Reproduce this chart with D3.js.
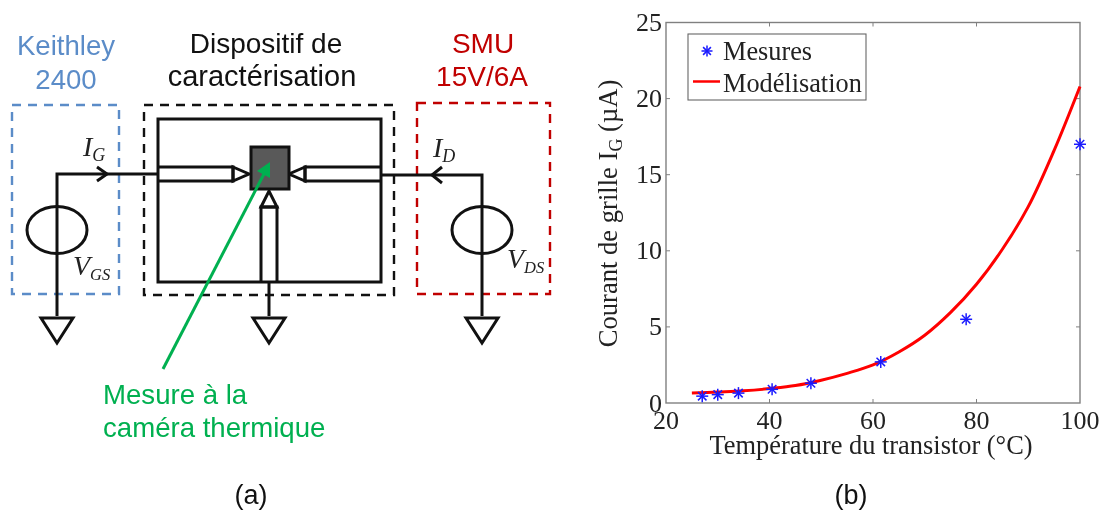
<!DOCTYPE html>
<html><head><meta charset="utf-8">
<script src="https://cdnjs.cloudflare.com/ajax/libs/d3/7.8.5/d3.min.js"></script>
<style>html,body{margin:0;padding:0;background:#fff}svg{display:block;filter:blur(0.55px)}</style></head>
<body><svg id="c" width="1104" height="513"></svg>
<script>
const xTicks=[20,40,60,80,100];
const yTicks=[0,5,10,15,20,25];
const measureT=[27,30,34,40.5,48,61.5,78,100];
const measureI=[0.45,0.55,0.65,0.9,1.3,2.7,5.5,17];
const modelT=[25,30,35,40,45,50,55,60,65,70,75,80,85,90,95,100];
const modelI=[0.65,0.72,0.8,0.95,1.15,1.5,1.95,2.5,3.35,4.45,5.95,7.8,10.1,12.9,16.6,20.8];
const legendLabels=["Mesures","Modélisation"];
const serif="'Liberation Serif'",sans="'Liberation Sans'";
const svg=d3.select("#c");
const x=d3.scaleLinear().domain([20,100]).range([666,1080]);
const y=d3.scaleLinear().domain([0,25]).range([403,22.5]);
const axisCol="#808080",txt="#222";
// plot frame
const g=svg.append("g");
g.append("rect").attr("x",666).attr("y",22.5).attr("width",414).attr("height",380.5).attr("fill","none").attr("stroke",axisCol).attr("stroke-width",1.4);
xTicks.slice(1,-1).forEach(t=>{[[403,399],[22.5,26.5]].forEach(d=>g.append("line").attr("x1",x(t)).attr("x2",x(t)).attr("y1",d[0]).attr("y2",d[1]).attr("stroke",axisCol));});
yTicks.slice(1,-1).forEach(t=>{[[666,670],[1080,1076]].forEach(d=>g.append("line").attr("y1",y(t)).attr("y2",y(t)).attr("x1",d[0]).attr("x2",d[1]).attr("stroke",axisCol));});
g.selectAll(".xt").data(xTicks).join("text").attr("x",d=>x(d)).attr("y",429).attr("text-anchor","middle").attr("font-family",serif).attr("font-size",26).attr("fill",txt).text(d=>d);
g.selectAll(".yt").data(yTicks).join("text").attr("x",662).attr("y",d=>y(d)+8.5).attr("text-anchor","end").attr("font-family",serif).attr("font-size",26).attr("fill",txt).text(d=>d);
g.append("text").attr("x",871).attr("y",454).attr("text-anchor","middle").attr("font-family",serif).attr("font-size",26.4).attr("fill",txt).text("Température du transistor (°C)");
const yl=g.append("text").attr("transform","translate(617,213.5) rotate(-90)").attr("text-anchor","middle").attr("font-family",serif).attr("font-size",26.6).attr("fill",txt);
yl.append("tspan").text("Courant de grille I");
yl.append("tspan").attr("font-size",18).attr("dy",5).text("G");
yl.append("tspan").attr("dy",-5).text(" (µA)");
// model
g.append("path").datum(modelT.map((t,i)=>[t,modelI[i]])).attr("d",d3.line().x(d=>x(d[0])).y(d=>y(d[1])).curve(d3.curveCatmullRom)).attr("fill","none").attr("stroke","#f00").attr("stroke-width",3);
// star marker
function star(sel,cx,cy,r){[0,45,90,135].forEach(a=>{const c=Math.cos(a*Math.PI/180)*r,s=Math.sin(a*Math.PI/180)*r;sel.append("line").attr("x1",cx-c).attr("x2",cx+c).attr("y1",cy-s).attr("y2",cy+s).attr("stroke","#1a1aff").attr("stroke-width",1.5);});}
measureT.forEach((t,i)=>star(g,x(t),y(measureI[i]),6));
// legend
g.append("rect").attr("x",688).attr("y",34).attr("width",178).attr("height",66).attr("fill","#fff").attr("stroke","#666").attr("stroke-width",1.1);
star(g,707,51,5.5);
g.append("line").attr("x1",693).attr("x2",720).attr("y1",81.5).attr("y2",81.5).attr("stroke","#f00").attr("stroke-width",2.5);
legendLabels.forEach((l,i)=>g.append("text").attr("x",723).attr("y",i?92:60).attr("font-family",serif).attr("font-size",26.3).attr("fill",txt).text(l));
// schematic
const s=svg.append("g").attr("fill","none").attr("stroke","#111").attr("stroke-width",3);
const dash=(a,b,w,h,col)=>s.append("rect").attr("x",a).attr("y",b).attr("width",w).attr("height",h).attr("stroke",col).attr("stroke-width",2.4).attr("stroke-dasharray","9 7");
dash(12,105,107,189,"#5b8cc8");dash(144,105,250,190,"#111");dash(417,103,133,191,"#c00000");
s.append("rect").attr("x",158).attr("y",119).attr("width",223).attr("height",163);
const P=d=>s.append("path").attr("d",d);
P("M57 316V174H158");P("M381 175H482V316");P("M269 282V316");
P("M97 167L107 174L97 181");P("M442 167L432 175L442 183");
[57,482].forEach(c=>s.append("ellipse").attr("cx",c).attr("cy",230).attr("rx",30).attr("ry",23.5).attr("fill","none"));
[57,269,482].forEach(c=>P(`M${c-16} 318H${c+16}L${c} 343Z`).attr("fill","#fff"));
P("M158 167H233V181H158");P("M233 167L249 174L233 181Z");
P("M381 167H305V181H381");P("M305 167L289 174L305 181Z");
P("M261 282V207H277V282");P("M261 207L269 191L277 207Z");
s.append("rect").attr("x",251).attr("y",147).attr("width",38).attr("height",42).attr("fill","#595959");
// green arrow
const green="#00b050";
svg.append("line").attr("x1",163).attr("y1",369).attr("x2",266).attr("y2",170).attr("stroke",green).attr("stroke-width",3);
svg.append("path").attr("d","M270 162L270 178L257 171Z").attr("fill",green);
// texts
const T=(t,px,py,col,fs,fam,anc,st)=>svg.append("text").attr("x",px).attr("y",py).attr("fill",col).attr("font-size",fs).attr("font-family",fam||sans).attr("text-anchor",anc||"middle").attr("font-style",st||"normal").text(t);
T("Keithley",66,55,"#5b8cc8",27.6);T("2400",66,89,"#5b8cc8",27.6);
T("Dispositif de",266,53,"#111",28);T("caractérisation",262,86,"#111",29);
T("SMU",483,53,"#c00000",28);T("15V/6A",482,86,"#c00000",28);
T("Mesure à la",103,404,green,27.6,sans,"start");T("caméra thermique",103,437,green,27.6,sans,"start");
T("(a)",251,504,"#111",27);T("(b)",851,504,"#111",27);
const M=(a,b,px,py,fs)=>{const e=svg.append("text").attr("x",px).attr("y",py).attr("font-family",serif).attr("font-style","italic").attr("font-size",28).attr("fill","#222");e.append("tspan").text(a);e.append("tspan").attr("font-size",fs).attr("dy",5).text(b);};
M("I","G",83,156,18);M("I","D",433,157,18);M("V","GS",73,275,16.5);M("V","DS",507,268,16.5);
</script></body></html>
